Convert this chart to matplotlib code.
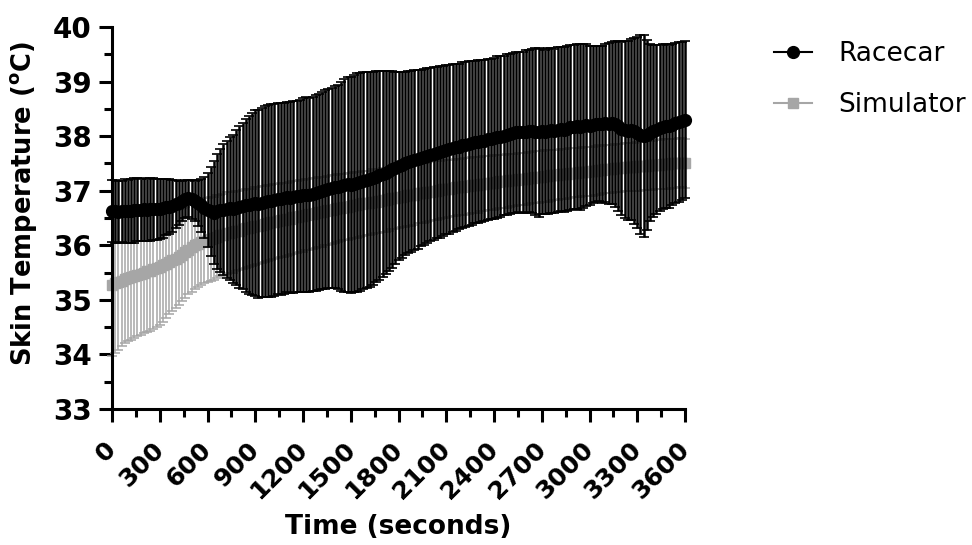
import numpy as np
import matplotlib
matplotlib.use("Agg")
import matplotlib.pyplot as plt
from matplotlib.lines import Line2D
import matplotlib.transforms as mtransforms

# time axis: one reading every 20 s, 0..3600 s
time_s = np.arange(0, 3601, 20)

# Racecar: mean skin temperature and SD
racecar_mean = [
    36.63, 36.62, 36.61, 36.62, 36.63, 36.62, 36.63, 36.64, 36.65, 36.64,
    36.66, 36.65, 36.66, 36.67, 36.66, 36.67, 36.68, 36.70, 36.71, 36.72,
    36.75, 36.78, 36.81, 36.85, 36.86, 36.84, 36.81, 36.77, 36.73, 36.69,
    36.65, 36.62, 36.60, 36.62, 36.64, 36.65, 36.66, 36.68, 36.67, 36.69,
    36.70, 36.72, 36.73, 36.74, 36.76, 36.77, 36.76, 36.78, 36.80, 36.81,
    36.82, 36.83, 36.85, 36.84, 36.86, 36.88, 36.87, 36.89, 36.90, 36.91,
    36.92, 36.93, 36.92, 36.94, 36.96, 36.98, 37.00, 37.02, 37.04, 37.05,
    37.06, 37.07, 37.08, 37.10, 37.12, 37.11, 37.13, 37.15, 37.16, 37.18,
    37.19, 37.21, 37.23, 37.26, 37.28, 37.31, 37.33, 37.36, 37.39, 37.42,
    37.45, 37.47, 37.50, 37.52, 37.54, 37.56, 37.58, 37.60, 37.62, 37.64,
    37.66, 37.68, 37.70, 37.71, 37.73, 37.75, 37.76, 37.78, 37.80, 37.81,
    37.83, 37.84, 37.86, 37.87, 37.89, 37.90, 37.91, 37.92, 37.94, 37.95,
    37.96, 37.98, 37.99, 38.01, 38.03, 38.04, 38.06, 38.07, 38.08, 38.07,
    38.08, 38.09, 38.10, 38.08, 38.07, 38.09, 38.08, 38.10, 38.11, 38.09,
    38.12, 38.13, 38.12, 38.14, 38.16, 38.17, 38.18, 38.17, 38.19, 38.20,
    38.19, 38.21, 38.22, 38.23, 38.22, 38.24, 38.23, 38.24, 38.22, 38.18,
    38.14, 38.12, 38.10, 38.12, 38.09, 38.06, 38.03, 38.01, 38.02, 38.06,
    38.09, 38.12, 38.15, 38.17, 38.19, 38.18, 38.21, 38.24, 38.26, 38.28,
    38.30,
]
racecar_sd = [
    0.57, 0.58, 0.57, 0.56, 0.58, 0.57, 0.58, 0.59, 0.58, 0.57,
    0.58, 0.57, 0.58, 0.57, 0.56, 0.55, 0.54, 0.52, 0.50, 0.48,
    0.44, 0.40, 0.37, 0.35, 0.34, 0.35, 0.37, 0.42, 0.48, 0.56,
    0.68, 0.82, 0.95, 1.05, 1.13, 1.20, 1.26, 1.31, 1.36, 1.42,
    1.48, 1.53, 1.58, 1.63, 1.67, 1.70, 1.72, 1.73, 1.75, 1.76,
    1.77, 1.76, 1.75, 1.76, 1.75, 1.74, 1.75, 1.76, 1.75, 1.76,
    1.77, 1.78, 1.77, 1.78, 1.79, 1.80, 1.81, 1.82, 1.82, 1.83,
    1.85, 1.87, 1.91, 1.95, 1.97, 1.98, 1.99, 2.00, 2.00, 1.99,
    1.98, 1.97, 1.95, 1.93, 1.91, 1.89, 1.86, 1.84, 1.80, 1.76,
    1.72, 1.70, 1.68, 1.67, 1.66, 1.65, 1.64, 1.62, 1.61, 1.60,
    1.59, 1.58, 1.57, 1.57, 1.56, 1.55, 1.55, 1.54, 1.53, 1.52,
    1.52, 1.51, 1.51, 1.50, 1.49, 1.49, 1.48, 1.48, 1.47, 1.47,
    1.47, 1.48, 1.47, 1.46, 1.47, 1.46, 1.47, 1.48, 1.47, 1.48,
    1.49, 1.48, 1.50, 1.53, 1.55, 1.51, 1.50, 1.52, 1.51, 1.50,
    1.51, 1.50, 1.51, 1.52, 1.51, 1.50, 1.51, 1.52, 1.50, 1.48,
    1.46, 1.44, 1.43, 1.42, 1.44, 1.45, 1.47, 1.48, 1.52, 1.56,
    1.59, 1.62, 1.64, 1.66, 1.70, 1.75, 1.82, 1.85, 1.74, 1.62,
    1.58, 1.55, 1.52, 1.51, 1.50, 1.49, 1.48, 1.47, 1.46, 1.45,
    1.44,
]

# Simulator: mean skin temperature and SD
simulator_mean = [
    35.27, 35.30, 35.33, 35.35, 35.38, 35.40, 35.41, 35.44, 35.46, 35.47,
    35.50, 35.52, 35.53, 35.56, 35.58, 35.60, 35.63, 35.66, 35.70, 35.73,
    35.75, 35.79, 35.83, 35.87, 35.92, 35.96, 36.00, 36.03, 36.06, 36.08,
    36.10, 36.12, 36.13, 36.16, 36.18, 36.19, 36.22, 36.23, 36.24, 36.26,
    36.27, 36.29, 36.31, 36.32, 36.33, 36.35, 36.36, 36.38, 36.39, 36.41,
    36.42, 36.43, 36.44, 36.46, 36.47, 36.48, 36.49, 36.51, 36.52, 36.53,
    36.54, 36.56, 36.57, 36.58, 36.59, 36.61, 36.61, 36.63, 36.64, 36.65,
    36.66, 36.68, 36.69, 36.70, 36.71, 36.72, 36.74, 36.74, 36.75, 36.77,
    36.77, 36.78, 36.80, 36.80, 36.81, 36.83, 36.83, 36.84, 36.86, 36.87,
    36.88, 36.89, 36.90, 36.92, 36.92, 36.93, 36.95, 36.95, 36.96, 36.97,
    36.98, 37.00, 37.00, 37.01, 37.03, 37.03, 37.04, 37.05, 37.06, 37.07,
    37.07, 37.08, 37.09, 37.10, 37.11, 37.11, 37.12, 37.13, 37.14, 37.14,
    37.15, 37.16, 37.17, 37.17, 37.18, 37.19, 37.20, 37.20, 37.21, 37.22,
    37.22, 37.23, 37.24, 37.25, 37.25, 37.26, 37.27, 37.27, 37.28, 37.29,
    37.29, 37.30, 37.31, 37.31, 37.32, 37.33, 37.33, 37.34, 37.35, 37.35,
    37.36, 37.36, 37.37, 37.38, 37.38, 37.39, 37.40, 37.40, 37.41, 37.41,
    37.42, 37.43, 37.43, 37.44, 37.44, 37.45, 37.45, 37.46, 37.46, 37.47,
    37.47, 37.48, 37.48, 37.49, 37.49, 37.49, 37.50, 37.50, 37.51, 37.51,
    37.50,
]
simulator_sd = [
    1.30, 1.27, 1.24, 1.20, 1.17, 1.15, 1.14, 1.13, 1.12, 1.12,
    1.11, 1.11, 1.10, 1.10, 1.08, 1.06, 1.03, 1.00, 0.96, 0.93,
    0.90, 0.88, 0.86, 0.84, 0.82, 0.81, 0.80, 0.79, 0.79, 0.78,
    0.77, 0.77, 0.76, 0.76, 0.75, 0.75, 0.75, 0.74, 0.74, 0.73,
    0.73, 0.72, 0.72, 0.72, 0.71, 0.71, 0.70, 0.70, 0.70, 0.69,
    0.69, 0.69, 0.68, 0.68, 0.68, 0.67, 0.67, 0.67, 0.66, 0.66,
    0.66, 0.65, 0.65, 0.65, 0.64, 0.64, 0.64, 0.63, 0.63, 0.63,
    0.62, 0.62, 0.62, 0.61, 0.61, 0.61, 0.60, 0.60, 0.60, 0.60,
    0.59, 0.59, 0.59, 0.58, 0.58, 0.58, 0.58, 0.57, 0.57, 0.57,
    0.57, 0.56, 0.56, 0.56, 0.56, 0.55, 0.55, 0.55, 0.55, 0.54,
    0.54, 0.54, 0.54, 0.53, 0.53, 0.53, 0.53, 0.52, 0.52, 0.52,
    0.52, 0.52, 0.51, 0.51, 0.51, 0.51, 0.50, 0.50, 0.50, 0.50,
    0.50, 0.49, 0.49, 0.49, 0.49, 0.49, 0.48, 0.48, 0.48, 0.48,
    0.48, 0.48, 0.47, 0.47, 0.47, 0.47, 0.47, 0.47, 0.46, 0.46,
    0.46, 0.46, 0.46, 0.46, 0.46, 0.45, 0.45, 0.45, 0.45, 0.45,
    0.45, 0.45, 0.45, 0.45, 0.44, 0.44, 0.44, 0.44, 0.44, 0.44,
    0.44, 0.44, 0.44, 0.44, 0.44, 0.45, 0.45, 0.45, 0.45, 0.45,
    0.45, 0.45, 0.45, 0.45, 0.45, 0.45, 0.45, 0.45, 0.45, 0.45,
    0.45,
]

x_ticks = list(range(0, 3601, 300))
y_ticks = list(range(33, 41))

race_col = "black"
sim_col = "#a6a6a6"

plt.rcParams["font.family"] = ["DejaVu Sans"]

fig = plt.figure(figsize=(9.72, 5.45), dpi=100)
ax = fig.add_axes([112/972, 1-409/545, 573/972, 382/545])

ax.errorbar(time_s, simulator_mean, yerr=simulator_sd, fmt="-s", color=sim_col,
            ms=7, lw=1.5, elinewidth=1.1, capsize=3.5, capthick=1.1,
            zorder=2, clip_on=False)
ax.errorbar(time_s, racecar_mean, yerr=racecar_sd, fmt="-o", color=race_col,
            ms=8.5, lw=1.5, elinewidth=1.8, capsize=3.5, capthick=1.2,
            zorder=3, clip_on=False)

ax.set_xlim(0, 3600)
ax.set_ylim(33, 40)
for s in ["top", "right"]:
    ax.spines[s].set_visible(False)
for s in ["left", "bottom"]:
    ax.spines[s].set_linewidth(2.2)

ax.set_xticks(x_ticks)
ax.set_xticks(np.arange(150, 3600, 300), minor=True)
ax.set_yticks(y_ticks)
ax.set_yticks(np.arange(33.5, 40, 1), minor=True)
ax.tick_params(which="major", length=9.5, width=2.2)
ax.tick_params(which="minor", length=5.5, width=2.2)
ax.tick_params(axis="y", labelsize=20, pad=5)
ax.tick_params(axis="x", labelsize=18, pad=11)
ax.set_xticklabels([str(v) for v in x_ticks], rotation=45, ha="right",
                   fontweight="bold")
ax.set_yticklabels([str(v) for v in y_ticks], fontweight="bold")
shift = mtransforms.ScaledTranslation(9/100, 0, fig.dpi_scale_trans)
for lab in ax.get_xticklabels():
    lab.set_transform(lab.get_transform() + shift)

ax.set_xlabel("Time (seconds)", fontsize=19, fontweight="bold")
ax.set_ylabel("Skin Temperature ($^\\mathbf{o}$C)", fontsize=18.5,
              fontweight="bold")
ax.xaxis.set_label_coords(0.5, -0.275)
ax.yaxis.set_label_coords(-0.127, 0.539)

handles = [
    Line2D([], [], color=race_col, marker="o", ms=8.5, lw=1.5),
    Line2D([], [], color=sim_col, marker="s", ms=7, lw=1.5),
]
ax.legend(handles, ["Racecar", "Simulator"], loc="upper left",
          bbox_to_anchor=(774/972, 0.924), bbox_transform=fig.transFigure,
          frameon=False, fontsize=19, borderpad=0, borderaxespad=0,
          handlelength=1.44, handletextpad=1.0, labelspacing=0.95)

fig.savefig("out.png", dpi=100)
